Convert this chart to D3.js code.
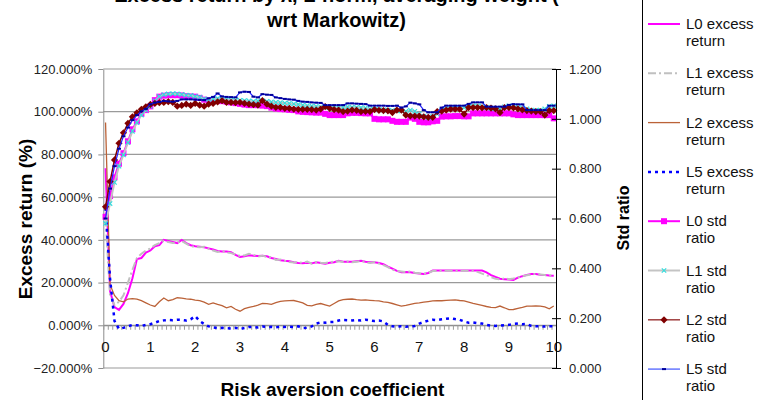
<!DOCTYPE html>
<html><head><meta charset="utf-8">
<script src="https://cdn.jsdelivr.net/npm/d3@7"></script>
<style>body{margin:0;background:#fff;overflow:hidden} svg{display:block} text{font-family:"Liberation Sans",Arial,sans-serif}</style>
</head><body>
<svg id="c" width="757" height="400"></svg>
<script>
// ---------------- DATA ----------------
const xCats = [0,0.1,0.2,0.3,0.4,0.5,0.6,0.7,0.8,0.9,1,1.1,1.2,1.3,1.4,1.5,1.6,1.7,1.8,1.9,2,2.1,2.2,2.3,2.4,2.5,2.6,2.7,2.8,2.9,3,3.1,3.2,3.3,3.4,3.5,3.6,3.7,3.8,3.9,4,4.1,4.2,4.3,4.4,4.5,4.6,4.7,4.8,4.9,5,5.1,5.2,5.3,5.4,5.5,5.6,5.7,5.8,5.9,6,6.1,6.2,6.3,6.4,6.5,6.6,6.7,6.8,6.9,7,7.1,7.2,7.3,7.4,7.5,7.6,7.7,7.8,7.9,8,8.1,8.2,8.3,8.4,8.5,8.6,8.7,8.8,8.9,9,9.1,9.2,9.3,9.4,9.5,9.6,9.7,9.8,9.9,10];
const xLabelTicks = [0,1,2,3,4,5,6,7,8,9,10];
const leftTicks = [-20,0,20,40,60,80,100,120];
const rightTicks = [0,0.2,0.4,0.6,0.8,1.0,1.2];

// excess returns (%), left axis
const l0Excess = [73.5,16,8.5,7.2,10,15,22,31,31.5,34,35,37,37.5,40,39.5,39,38.5,40,38.5,37.5,37,36.8,36.5,36,35.5,34.8,34.6,34.5,34.2,33,32,32.3,32.8,32.6,32.4,32.5,32.3,31.5,31,30.5,30.2,30,29.5,29.2,29,29.3,29,29.5,29.2,28.8,29.3,29.5,30.2,29.8,29.8,29.7,30,30.2,29.8,29.5,29.5,29.2,28.6,27.5,26.5,25.5,24.8,25,24.8,24.5,24.2,24,24.5,25.6,25.6,25.6,25.6,25.6,25.6,25.6,25.6,25.6,25.6,25.6,25.6,24.8,23.5,22.6,21.8,21.6,21.4,21.2,22.3,23,23.6,24,24,23.7,23.5,23.3,23.2];
const l1Excess = [50,14,9.5,11,14,20,26,31.5,33.5,35,36,37.5,38.5,39.5,39,38.5,38.8,39.5,38.2,37,36.8,36.5,36.8,35.8,35,34.3,34.8,34.2,33.8,33.2,32.5,32.7,33.5,33,32.2,32.6,32,31.8,30.6,30.8,30.2,29.6,29.4,29.5,29.3,29.8,28.8,29.6,29.3,29.2,29.5,29.8,30,29.6,29.9,29.5,29.8,30.1,29.6,29.2,29.6,28.9,28.2,27.2,26,25.4,25.2,24.9,25.2,24.6,24.4,24.1,24.6,25.4,25.5,25.5,25.5,25.5,25.5,25.5,25.5,25.5,25.5,25,24.2,23.4,22.6,21.8,21.5,22,21.6,21.9,22.4,23,23.4,23.8,24.1,23.8,23.5,23.4,23.3];
const l2Excess = [95,19,14,11.5,11,12.3,12.5,12.2,11.5,10.5,9.5,8.8,11,12.8,11.5,12,12.9,12.7,12.4,12.2,11.8,11.5,10.8,9.8,10.5,9.8,9.2,8.2,8.8,7.5,6.6,7.8,8.4,8.8,9.4,10.2,10.1,9.8,10.6,11.2,11.4,11.5,11.6,11.1,10.5,9.3,9.1,9.8,10.2,9.6,9.0,10.2,11.4,12.0,12.2,12.3,12.0,11.8,11.9,11.7,11.5,11.4,11.0,10.7,10.2,9.6,9.0,9.3,9.8,10.3,10.5,10.8,11.1,11.4,11.5,11.5,11.7,11.8,11.9,11.6,11.4,10.9,10.3,9.8,9.3,8.8,8.4,8.3,9.0,8.2,7.3,7.4,7.9,8.4,9.0,9.0,9.1,9.0,8.6,7.7,9.0];
const l5Excess = [55,22,2,-1.7,-1.2,-0.5,0.2,0,-0.3,0.2,0.5,1.2,2,2.3,2.5,2.4,2.6,2.5,2.2,2.8,4.3,2,0.6,-0.5,-1,-1.3,-1.2,-1.4,-1.5,-1.2,-1.7,-1.3,-0.8,-0.8,-1,-0.6,-0.8,-0.7,-1,-0.6,-0.8,-0.6,-0.8,-0.5,-1.3,-1.2,-0.5,0.8,1.4,1.2,1.5,1.6,2.2,2.5,2.4,2.3,2.5,2.2,2.6,2.3,2.0,2.2,1.8,0.2,-0.5,-0.6,-0.4,-0.7,-0.5,-0.3,0.8,1.5,2.2,2.6,2.4,2.8,3.1,3.3,2.9,2.6,1.8,1.2,1.3,1.0,0.8,0.2,-0.2,-0.3,-0.2,0.0,0.2,0.6,0.8,0.5,0.6,-0.3,-0.5,-0.5,-0.6,-0.4,-0.5];

// std ratios, right axis
const l0Std = [0.607,0.69,0.765,0.82,0.862,0.91,0.958,0.99,1.02,1.035,1.05,1.075,1.089,1.093,1.095,1.095,1.095,1.094,1.091,1.09,1.089,1.084,1.077,1.075,1.074,1.073,1.071,1.069,1.066,1.063,1.06,1.057,1.055,1.055,1.055,1.053,1.051,1.045,1.041,1.039,1.038,1.036,1.035,1.03,1.028,1.027,1.026,1.025,1.025,1.02,1.015,1.015,1.015,1.015,1.022,1.024,1.024,1.023,1.022,1.022,1.0,0.998,0.998,0.998,0.992,0.988,0.988,0.988,1.005,1.0,0.988,0.986,0.986,0.99,0.992,1.009,1.01,1.01,1.011,1.011,1.01,1.01,1.022,1.022,1.022,1.022,1.022,1.022,1.022,1.022,1.022,1.018,1.015,1.015,1.015,1.015,1.015,1.015,1.015,1.015,1.002];
const l1Std = [0.58,0.66,0.745,0.81,0.855,0.905,0.95,0.985,1.015,1.035,1.05,1.072,1.09,1.097,1.1,1.101,1.1,1.098,1.095,1.094,1.09,1.087,1.08,1.078,1.08,1.082,1.08,1.078,1.076,1.075,1.074,1.073,1.072,1.07,1.072,1.072,1.07,1.068,1.066,1.065,1.063,1.062,1.06,1.058,1.055,1.053,1.052,1.05,1.048,1.046,1.045,1.046,1.045,1.046,1.048,1.047,1.046,1.045,1.044,1.04,1.038,1.037,1.036,1.035,1.034,1.033,1.032,1.03,1.035,1.03,1.02,1.01,1.005,1.01,1.02,1.035,1.04,1.042,1.043,1.042,1.045,1.048,1.052,1.052,1.05,1.045,1.042,1.04,1.04,1.048,1.052,1.05,1.046,1.044,1.04,1.035,1.034,1.035,1.04,1.05,1.052];
const l2Std = [0.647,0.748,0.835,0.902,0.944,0.982,1.008,1.024,1.038,1.048,1.058,1.062,1.065,1.066,1.069,1.066,1.051,1.054,1.059,1.054,1.062,1.055,1.051,1.059,1.062,1.068,1.073,1.066,1.066,1.065,1.066,1.062,1.059,1.057,1.055,1.073,1.059,1.051,1.046,1.046,1.042,1.042,1.039,1.038,1.038,1.038,1.037,1.035,1.039,1.049,1.042,1.037,1.035,1.029,1.031,1.035,1.034,1.029,1.03,1.029,1.037,1.034,1.033,1.032,1.025,1.035,1.035,1.015,1.012,1.011,1.011,1.008,1.006,1.006,1.029,1.031,1.035,1.039,1.039,1.039,1.019,1.045,1.045,1.045,1.044,1.045,1.043,1.04,1.025,1.045,1.045,1.044,1.04,1.036,1.033,1.031,1.029,1.029,1.015,1.033,1.033];
const l5Std = [0.60,0.72,0.81,0.88,0.93,0.965,0.995,1.015,1.03,1.04,1.058,1.065,1.068,1.072,1.07,1.069,1.072,1.078,1.078,1.078,1.077,1.076,1.075,1.082,1.088,1.102,1.09,1.088,1.087,1.086,1.106,1.109,1.108,1.089,1.086,1.099,1.097,1.096,1.086,1.083,1.08,1.078,1.077,1.072,1.069,1.068,1.066,1.065,1.064,1.055,1.055,1.055,1.055,1.055,1.062,1.062,1.061,1.06,1.059,1.053,1.053,1.053,1.053,1.052,1.052,1.053,1.045,1.05,1.065,1.062,1.058,1.035,1.026,1.026,1.026,1.045,1.053,1.053,1.053,1.053,1.053,1.06,1.066,1.066,1.066,1.049,1.049,1.049,1.049,1.049,1.056,1.059,1.058,1.058,1.035,1.035,1.035,1.035,1.035,1.053,1.053];

const titleLines = ["Excess return by λ, L-norm, averaging weight (", "wrt Markowitz)"];
const leftTitle = "Excess return (%)";
const rightTitle = "Std ratio";
const xTitle = "Risk aversion coefficient";

// ---------------- CHART ----------------
const svg = d3.select("#c");
const L = 103.3, R = 556, T = 69, B = 368;

const x = d3.scaleBand().domain(xCats).range([L, R]).padding(0);
const xc = d => x(d) + x.bandwidth() / 2;
const xBound = d3.scaleLinear().domain([0, xCats.length]).range([L, R]);
const yL = d3.scaleLinear().domain([-20, 120]).range([B, T]);
const yR = d3.scaleLinear().domain([0, 1.2]).range([B, T]);

// gridlines
svg.append("g").selectAll("line").data(leftTicks).join("line")
  .attr("x1", L).attr("x2", R).attr("y1", d => yL(d)).attr("y2", d => yL(d))
  .attr("stroke", "#9a9a9a").attr("stroke-width", 1.2);

// left axis
const gL = svg.append("g").attr("transform", `translate(${L},0)`)
  .call(d3.axisLeft(yL).tickValues(leftTicks).tickSizeInner(5).tickSizeOuter(0).tickPadding(6)
    .tickFormat(d => d3.format(".3f")(d) + "%"));
gL.select(".domain").attr("stroke", "#8c8c8c");
gL.selectAll(".tick line").attr("stroke", "#8c8c8c");
gL.selectAll("text").attr("font-size", 13).attr("fill", "#222").style("font-family", "'Liberation Sans',Arial,sans-serif");

// x axis at 0%
const gXt = svg.append("g").attr("transform", `translate(0,${yL(0)})`)
  .call(d3.axisBottom(xBound).tickValues(d3.range(0, xCats.length + 1)).tickSize(4.5).tickSizeOuter(0).tickFormat(""));
gXt.select(".domain").attr("stroke", "#8c8c8c");
gXt.selectAll(".tick line").attr("stroke", "#9a9a9a");
const gXl = svg.append("g").attr("transform", `translate(0,${yL(0)})`)
  .call(d3.axisBottom(x).tickValues(xLabelTicks).tickSize(0).tickPadding(16.5));
gXl.select(".domain").remove();
gXl.selectAll("text").attr("font-size", 15).attr("fill", "#111").style("font-family", "'Liberation Sans',Arial,sans-serif");

// lines
const lineL = d3.line().x((d, i) => xc(xCats[i])).y(d => yL(d));
const lineR = d3.line().x((d, i) => xc(xCats[i])).y(d => yR(d));

const excess = [
  {data: l0Excess, color: "#ff00ff", w: 2, dash: null},
  {data: l1Excess, color: "#c0c0c0", w: 2, dash: "8,3,2,3"},
  {data: l2Excess, color: "#bb6238", w: 1.3, dash: null},
  {data: l5Excess, color: "#0000ff", w: 2.5, dash: "3,4"}
];
excess.forEach(s => {
  svg.append("path").datum(s.data).attr("d", lineL).attr("fill", "none")
    .attr("stroke", s.color).attr("stroke-width", s.w).attr("stroke-dasharray", s.dash);
});

const stds = [
  {data: l0Std, color: "#ff00ff", w: 2, marker: "square", mcolor: "#ff00ff"},
  {data: l1Std, color: "#c4c4c4", w: 2, marker: "x", mcolor: "#33dddd"},
  {data: l2Std, color: "#800000", w: 1.5, marker: "diamond", mcolor: "#800000"},
  {data: l5Std, color: "#2222ff", w: 1.2, marker: "dash", mcolor: "#000099"}
];
function drawMarker(g, type, color, cx, cy) {
  if (type === "square") {
    g.append("rect").attr("x", cx - 3).attr("y", cy - 3).attr("width", 6).attr("height", 6).attr("fill", color);
  } else if (type === "x") {
    g.append("path").attr("d", `M${cx-2.2},${cy-2.2}L${cx+2.2},${cy+2.2}M${cx-2.2},${cy+2.2}L${cx+2.2},${cy-2.2}`)
      .attr("stroke", color).attr("stroke-width", 1.2);
  } else if (type === "diamond") {
    g.append("path").attr("d", `M${cx},${cy-3.6}L${cx+3.6},${cy}L${cx},${cy+3.6}L${cx-3.6},${cy}Z`).attr("fill", color);
  } else if (type === "dash") {
    g.append("rect").attr("x", cx - 2).attr("y", cy - 1).attr("width", 4).attr("height", 2).attr("fill", color);
  }
}
stds.forEach(s => {
  svg.append("path").datum(s.data).attr("d", lineR).attr("fill", "none")
    .attr("stroke", s.color).attr("stroke-width", s.w);
  const g = svg.append("g");
  s.data.forEach((v, i) => drawMarker(g, s.marker, s.mcolor, xc(xCats[i]), yR(v)));
});

// right axis
const gR = svg.append("g").attr("transform", `translate(${R},0)`)
  .call(d3.axisRight(yR).tickValues(rightTicks).tickSizeInner(5).tickSizeOuter(0).tickPadding(8)
    .tickFormat(d3.format(".3f")));
gR.select(".domain").attr("stroke", "#000");
gR.selectAll(".tick line").attr("x1", -4).attr("stroke", "#000");
gR.selectAll("text").attr("font-size", 13).attr("fill", "#222").style("font-family", "'Liberation Sans',Arial,sans-serif");

// titles
const tg = svg.append("g").attr("font-weight", "bold").attr("fill", "#000").attr("text-anchor", "middle");
tg.append("text").attr("x", 336.5).attr("y", 2).attr("font-size", 20).text(titleLines[0]);
tg.append("text").attr("x", 336.5).attr("y", 26.5).attr("font-size", 20).text(titleLines[1]);
tg.append("text").attr("transform", "translate(32,219) rotate(-90)").attr("font-size", 19).text(leftTitle);
tg.append("text").attr("transform", "translate(629,218) rotate(-90)").attr("font-size", 16).text(rightTitle);
tg.append("text").attr("x", 332.5).attr("y", 396).attr("font-size", 19).text(xTitle);

// legend
const legendItems = [
  {l1: "L0 excess", l2: "return", color: "#ff00ff", w: 2, dash: null, marker: null},
  {l1: "L1 excess", l2: "return", color: "#c0c0c0", w: 2, dash: "8,3,2,3", marker: null},
  {l1: "L2 excess", l2: "return", color: "#bb6238", w: 1.3, dash: null, marker: null},
  {l1: "L5 excess", l2: "return", color: "#0000ff", w: 2.5, dash: "3,4", marker: null},
  {l1: "L0 std", l2: "ratio", color: "#ff00ff", w: 2, dash: null, marker: "square", mcolor: "#ff00ff"},
  {l1: "L1 std", l2: "ratio", color: "#c4c4c4", w: 2, dash: null, marker: "x", mcolor: "#33dddd"},
  {l1: "L2 std", l2: "ratio", color: "#a04040", w: 1.5, dash: null, marker: "diamond", mcolor: "#800000"},
  {l1: "L5 std", l2: "ratio", color: "#6677ff", w: 1.5, dash: null, marker: "dash", mcolor: "#000099"}
];
const lg = svg.append("g");
lg.append("rect").attr("x", 642.5).attr("y", -2).attr("width", 130).attr("height", 404)
  .attr("fill", "#fff").attr("stroke", "#000").attr("stroke-width", 1);
legendItems.forEach((it, i) => {
  const cy = 24 + i * 49.3;
  lg.append("line").attr("x1", 648).attr("x2", 680).attr("y1", cy).attr("y2", cy)
    .attr("stroke", it.color).attr("stroke-width", it.w).attr("stroke-dasharray", it.dash);
  if (it.marker) drawMarker(lg, it.marker, it.mcolor, 664, cy);
  lg.append("text").attr("x", 686).attr("y", cy + 5).attr("font-size", 15).attr("fill", "#111").text(it.l1);
  lg.append("text").attr("x", 686).attr("y", cy + 22).attr("font-size", 15).attr("fill", "#111").text(it.l2);
});
</script>
</body></html>
